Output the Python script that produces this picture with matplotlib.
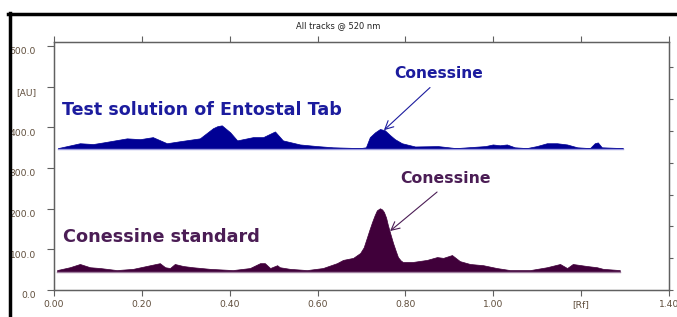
import numpy as np
import matplotlib.pyplot as plt
from matplotlib.lines import Line2D
from matplotlib.transforms import ScaledTranslation

# densitogram traces (Rf, AU)
up_rf = [0.009, 0.059, 0.089, 0.112, 0.166, 0.196, 0.225, 0.257, 0.287, 0.332,
         0.362, 0.372, 0.382, 0.401, 0.417, 0.453, 0.476, 0.503, 0.521, 0.560,
         0.599, 0.635, 0.697, 0.710, 0.719, 0.731, 0.742, 0.753, 0.765, 0.776,
         0.792, 0.822, 0.874, 0.915, 0.982, 0.999, 1.015, 1.031, 1.049, 1.076,
         1.099, 1.122, 1.145, 1.168, 1.191, 1.220, 1.231, 1.238, 1.247, 1.295]
up_au = [349, 361, 359, 363, 373, 371, 376, 361, 366, 373,
         398, 403, 405, 388, 368, 376, 376, 390, 368, 358,
         354, 351, 349, 351, 376, 388, 396, 393, 381, 371,
         361, 353, 354, 349, 354, 358, 356, 358, 351, 349,
         354, 361, 361, 358, 351, 349, 361, 363, 351, 349]
up_base = 348

lo_rf = [0.007, 0.036, 0.059, 0.082, 0.105, 0.143, 0.180, 0.219, 0.241, 0.253,
         0.264, 0.275, 0.294, 0.316, 0.355, 0.407, 0.446, 0.469, 0.480, 0.492,
         0.508, 0.514, 0.537, 0.576, 0.612, 0.644, 0.658, 0.681, 0.697, 0.705,
         0.712, 0.718, 0.724, 0.730, 0.735, 0.742, 0.747, 0.751, 0.756, 0.760,
         0.766, 0.772, 0.778, 0.783, 0.789, 0.794, 0.817, 0.849, 0.872, 0.886,
         0.906, 0.924, 0.947, 0.977, 1.008, 1.038, 1.084, 1.122, 1.152, 1.168,
         1.181, 1.213, 1.236, 1.250, 1.288]
lo_au = [49, 56, 64, 56, 54, 49, 52, 61, 66, 56,
         54, 64, 59, 56, 52, 49, 54, 66, 66, 54,
         61, 56, 52, 49, 54, 66, 74, 79, 91, 105,
         128, 148, 167, 184, 196, 201, 198, 192, 178, 160,
         137, 115, 96, 81, 73, 69, 69, 74, 81, 79,
         86, 71, 64, 61, 54, 49, 49, 56, 64, 54,
         64, 59, 56, 52, 49]
lo_base = 44

x_ticks = [0.0, 0.2, 0.4, 0.6, 0.8, 1.0, 1.2, 1.4]
x_labels = ['0.00', '0.20', '0.40', '0.60', '0.80', '1.00', '[Rf]', '1.40']
y_ticks = [0, 100, 200, 300, 400, 500, 600]
y_labels = ['0.0', '100.0', '200.0', '300.0', '400.0', '[AU]', '600.0']

up_col = '#000094'
lo_col = '#40003a'
up_txt = '#1c1c9e'
lo_txt = '#4b1d55'
lab_col = '#5e4c3a'
ax_col = '#606060'

fig = plt.figure(figsize=(6.77, 3.17), dpi=100)
ax = fig.add_axes([54/677, 27/317, 615/677, 248/317])

ax.plot([up_rf[0], up_rf[-1]], [up_base, up_base], color='#9a9ae0', lw=1.0)
ax.fill_between(up_rf, up_base, up_au, color=up_col, lw=0.5, ec=up_col)
ax.plot([lo_rf[0], lo_rf[-1]], [lo_base, lo_base], color='#a080a0', lw=1.0)
ax.fill_between(lo_rf, lo_base, lo_au, color=lo_col, lw=0.5, ec=lo_col)

ax.text(0.018, 442, 'Test solution of Entostal Tab', color=up_txt,
        fontsize=12.6, fontweight='bold', va='center', ha='left')
ax.text(0.020, 130, 'Conessine standard', color=lo_txt,
        fontsize=12.7, fontweight='bold', va='center', ha='left')
ax.text(0.774, 533, 'Conessine', color=up_txt,
        fontsize=11.2, fontweight='bold', va='center', ha='left')
ax.text(0.788, 275, 'Conessine', color=lo_txt,
        fontsize=11.3, fontweight='bold', va='center', ha='left')

ax.annotate('', xy=(0.751, 393), xytext=(0.856, 498),
            arrowprops=dict(arrowstyle='->,head_length=0.6,head_width=0.3',
                            color=up_txt, lw=0.8, shrinkA=0, shrinkB=0))
ax.annotate('', xy=(0.765, 145), xytext=(0.872, 241),
            arrowprops=dict(arrowstyle='->,head_length=0.6,head_width=0.3',
                            color=lo_txt, lw=0.8, shrinkA=0, shrinkB=0))

ax.set_xlim(0, 1.4)
ax.set_ylim(0, 610)
ax.set_xticks(x_ticks)
ax.set_xticklabels(x_labels)
ax.set_yticks(y_ticks)
ax.set_yticklabels(y_labels)
ax.tick_params(colors=ax_col, labelcolor=lab_col, labelsize=6.6, direction='out')
ax.tick_params(axis='x', top=True, length=4, pad=3)
ax.tick_params(axis='y', length=5, pad=8)
off = ScaledTranslation(0, -3.5/72, fig.dpi_scale_trans)
for lab in ax.get_yticklabels():
    lab.set_transform(lab.get_transform() + off)
for s in ax.spines.values():
    s.set_color(ax_col)
    s.set_linewidth(1.0)

# right axis has its own unlabelled scale
ax2 = ax.twinx()
ax2.set_ylim(0, 248/31.8)
ax2.set_yticks(range(0, 8))
ax2.tick_params(length=3, colors=ax_col, labelright=False)
for s in ax2.spines.values():
    s.set_color(ax_col)

fig.text(338/677, 1 - 26/317, 'All tracks @ 520 nm', ha='center', va='center',
         fontsize=6, color='#222222')

# black frame of the original screenshot
fig.add_artist(Line2D([8/677, 1], [1 - 14/317, 1 - 14/317],
                      transform=fig.transFigure, color='black', lw=2.5))
fig.add_artist(Line2D([9.5/677, 9.5/677], [0, 1 - 13/317],
                      transform=fig.transFigure, color='black', lw=2.5))

fig.savefig('out.png', dpi=100)
